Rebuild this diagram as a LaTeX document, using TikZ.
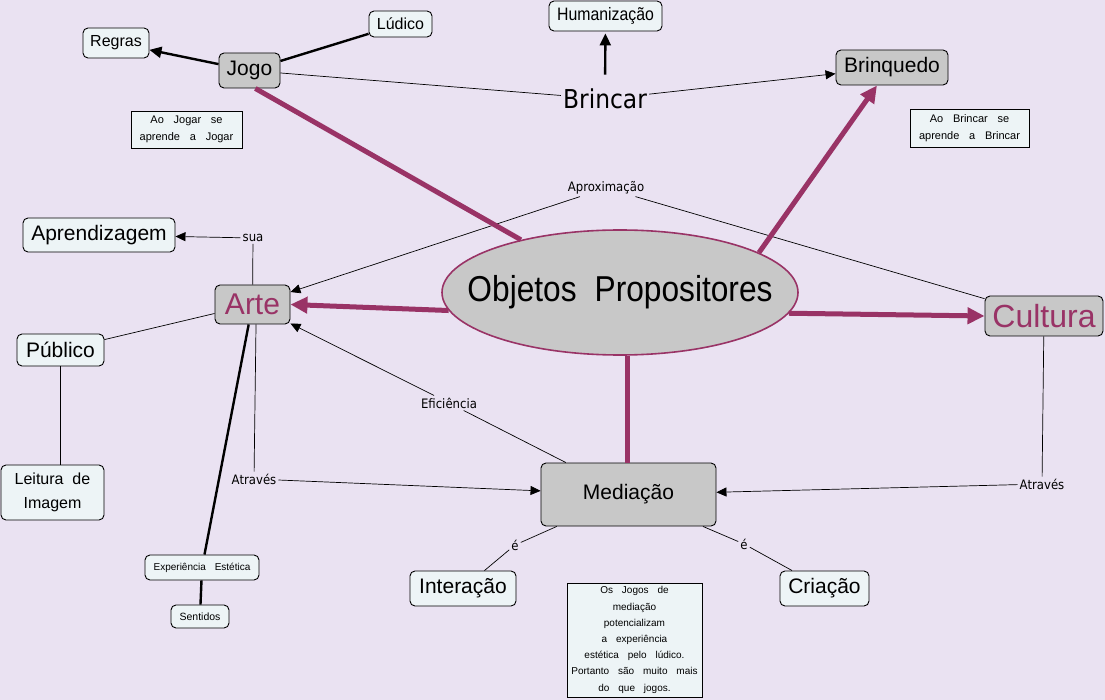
\documentclass[tikz,border=0pt]{standalone}
\usepackage{fontspec}
\usetikzlibrary{shapes.geometric,arrows.meta,calc}
\setmainfont{Liberation Sans}
\newfontfamily\arialn[FakeStretch=0.88]{Liberation Sans}
\newfontfamily\arialw[WordSpace=3.2]{Liberation Sans}
\newfontfamily\dvsn[FakeStretch=0.9]{DejaVu Sans}
\definecolor{bg}{RGB}{234,226,242}
\definecolor{lightfill}{RGB}{237,244,246}
\definecolor{greyfill}{RGB}{200,200,200}
\definecolor{purp}{RGB}{153,51,102}
\newcommand\fs[2]{\fontsize{#1}{#2}\selectfont}
\begin{document}
\begin{tikzpicture}[x=1pt,y=-1pt,
 box/.style={draw=black,line width=0.9pt,rounded corners=5pt,inner sep=0pt,align=center},
 lbox/.style={box,fill=lightfill},
 gbox/.style={box,fill=greyfill},
 notebox/.style={draw=black,line width=0.9pt,fill=lightfill,inner sep=0pt,align=center},
 lbl/.style={inner sep=2pt,font=\dvsn\fs{13}{15}},
 thinline/.style={line width=0.7pt,draw=black},
 thickline/.style={line width=2.4pt,draw=black},
 purpline/.style={line width=5pt,draw=purp},
 tarr/.style={-{Triangle[length=10pt,width=9pt]}},
 karr/.style={-{Triangle[length=12pt,width=11pt]}},
 parr/.style={-{Triangle[length=17pt,width=16pt]}},
]
\fill[bg] (0,0) rectangle (1105,700);
\useasboundingbox (0,0) rectangle (1105,700);

% nodes
\node[lbox,minimum width=66pt,minimum height=30pt,font=\fs{16}{19}] (regras) at (116,43) {Regras};
\node[lbox,minimum width=63pt,minimum height=26pt,font=\fs{16}{19}] (ludico) at (400.5,24) {Lúdico};
\node[gbox,minimum width=61pt,minimum height=35pt,font=\fs{21}{24}] (jogo) at (249.5,70.5) {Jogo};
\node[notebox,minimum width=111pt,minimum height=37pt,font=\arialw\fs{11}{17}] (notajogo) at (186.5,129.5) {Ao Jogar se\\ aprende a Jogar};
\node[lbox,minimum width=113pt,minimum height=30pt,font=\arialn\fs{18}{20}] (human) at (605.5,16) {Humanização};
\node[inner sep=2pt,font=\dvsn\fs{26}{30}] (brincar) at (605,99) {Brincar};
\node[gbox,minimum width=112pt,minimum height=35pt,font=\fs{21}{24}] (brinquedo) at (892,67.5) {Brinquedo};
\node[notebox,minimum width=119pt,minimum height=38pt,font=\arialw\fs{11}{17}] (notabrincar) at (969.5,128) {Ao Brincar se\\ aprende a Brincar};
\node[lbox,minimum width=152pt,minimum height=34pt,font=\fs{21}{24}] (aprend) at (99,235) {Aprendizagem};
\node[gbox,minimum width=75pt,minimum height=39pt,font=\fs{30}{34},text=purp] (arte) at (252.5,304.5) {Arte};
\node[ellipse,draw=purp,line width=1.6pt,fill=greyfill,minimum width=356pt,minimum height=125pt,inner sep=0pt,font=\arialn\fs{36}{40}] (obj) at (620,292.5) {\makebox[0pt]{Objetos\hspace{18pt}Propositores}};
\node[gbox,minimum width=118pt,minimum height=40pt,font=\fs{32}{36},text=purp] (cultura) at (1044,316) {Cultura};
\node[lbox,minimum width=87pt,minimum height=32pt,font=\fs{21}{24}] (publico) at (60.5,350) {Público};
\node[lbox,minimum width=103pt,minimum height=55pt,font=\fs{16}{24}] (leitura) at (52.5,492.5) {Leitura\ \ de\\ Imagem};
\node[gbox,minimum width=175pt,minimum height=63pt,font=\fs{21}{24}] (mediacao) at (628.5,494.5) {Mediação};
\node[lbox,minimum width=114pt,minimum height=25pt,font=\arialw\fs{10}{12}] (experiencia) at (202,567.5) {Experiência Estética};
\node[lbox,minimum width=58pt,minimum height=23pt,font=\fs{10.5}{12}] (sentidos) at (200,616.5) {Sentidos};
\node[lbox,minimum width=106pt,minimum height=35pt,font=\fs{21}{24}] (interacao) at (463,588.5) {Interação};
\node[lbox,minimum width=89pt,minimum height=35pt,font=\fs{21}{24}] (criacao) at (824.5,588.5) {Criação};
\node[notebox,minimum width=135pt,minimum height=114pt,font=\arialw\fs{10}{16.2}] (notamed) at (634.5,640) {Os Jogos de\\ mediação\\ potencializam\\ a experiência\\ estética pelo lúdico.\\ Portanto são muito mais\\ do que jogos.};

% labels
\node[lbl] (aprox) at (606,188) {Aproximação};
\node[lbl] (sua) at (253,238) {sua};
\node[lbl] (efic) at (449,403) {Eficiência};
\node[lbl] (atr1) at (254,479) {Através};
\node[lbl] (atr2) at (1042,484) {Através};
\node[lbl] (e1) at (515,545) {é};
\node[lbl] (e2) at (744,544) {é};

% black connectors
\draw[thickline,karr] (jogo) -- (regras);
\draw[thickline] (jogo) -- (ludico);
\draw[thinline] (jogo) -- (brincar);
\draw[thinline,tarr] (brincar) -- (brinquedo);
\draw[thickline,karr,shorten <=12pt,shorten >=2pt] (brincar) -- (human);
\draw[thinline] (cultura) -- (aprox);
\draw[thinline,tarr] (aprox) -- (arte);
\draw[thinline] (arte) -- (sua);
\draw[thinline,tarr] (sua) -- (aprend);
\draw[thinline] (arte) -- (publico);
\draw[thinline] (publico.south) -- (publico.south |- leitura.north);
\draw[thickline] (arte) -- (experiencia);
\draw[thickline] (experiencia) -- (sentidos);
\draw[thinline] (arte.-80) -- (atr1);
\draw[thinline,tarr] (atr1) -- (mediacao);
\draw[thinline] (mediacao) -- (efic);
\draw[thinline,tarr] (efic) -- (arte);
\draw[thinline] (cultura) -- (atr2);
\draw[thinline,tarr] (atr2) -- (mediacao);
\draw[thinline] (mediacao) -- (e1);
\draw[thinline] (e1) -- (interacao);
\draw[thinline] (mediacao) -- (e2);
\draw[thinline] (e2) -- (criacao);

% purple connectors
\draw[purpline] (obj.152) -- (jogo.-72);
\draw[purpline,parr] (obj.16) -- (brinquedo.-130);
\draw[purpline,parr] (obj.186) -- (arte.east);
\draw[purpline,parr] (obj.-7) -- (cultura.west);
\draw[purpline] (obj.-83) -- (obj.-83 |- mediacao.north);
\end{tikzpicture}
\end{document}
